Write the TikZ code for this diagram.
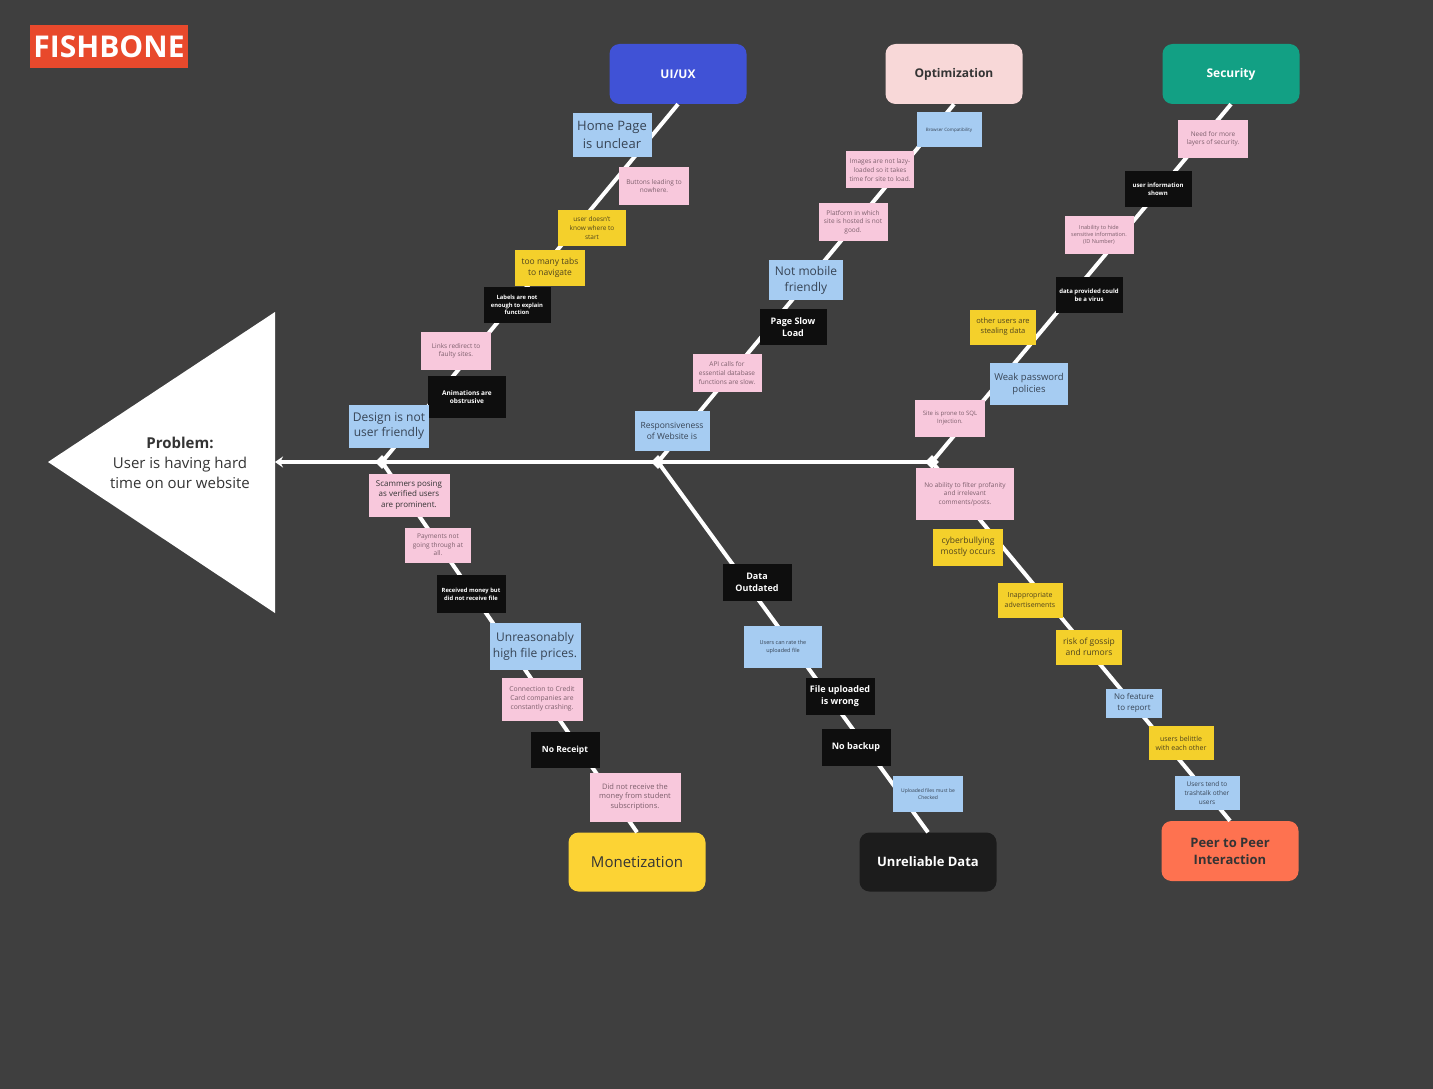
\documentclass[tikz,border=0pt]{standalone}
\usepackage{fontspec}
\setmainfont{Open Sans}
\usetikzlibrary{arrows.meta,shapes.geometric}
\definecolor{board}{RGB}{63,63,63}
\definecolor{fishred}{RGB}{232,73,44}
\definecolor{uiblue}{RGB}{64,82,214}
\definecolor{optpink}{RGB}{248,216,216}
\definecolor{secgreen}{RGB}{18,160,132}
\definecolor{monyellow}{RGB}{252,211,52}
\definecolor{datablack}{RGB}{28,28,28}
\definecolor{peerorange}{RGB}{254,114,80}
\definecolor{noteblue}{RGB}{166,204,242}
\definecolor{notepink}{RGB}{248,200,220}
\definecolor{noteyellow}{RGB}{244,208,43}
\definecolor{noteblack}{RGB}{14,14,14}
\definecolor{inkdark}{RGB}{52,52,52}
\definecolor{inkblue}{RGB}{55,68,85}
\definecolor{inkpink}{RGB}{125,95,108}
\definecolor{inkyellow}{RGB}{80,68,30}
\newcommand\fsz[1]{\pgfmathsetmacro\fszskip{1.32*#1}\fontsize{#1}{\fszskip}\selectfont}

\begin{document}
\begin{tikzpicture}[x=1pt, y=-1pt, line join=round,
	bone/.style={white, line width=4pt},
	head/.style={rounded corners=10pt, minimum width=137pt, minimum height=60pt, align=center, font=\bfseries\fsz{12}},
	sticky/.style={minimum width=69pt, minimum height=37pt, inner sep=1pt, align=center},
	sblue/.style={sticky, fill=noteblue, text=inkblue, font=\fsz{#1}},
	spink/.style={sticky, fill=notepink, text=inkpink, font=\fsz{#1}},
	syellow/.style={sticky, fill=noteyellow, text=inkyellow, font=\fsz{#1}},
	sblack/.style={sticky, fill=noteblack, text=white, font=\bfseries\fsz{#1}},
	joint/.style={diamond, fill=white, inner sep=0pt, minimum size=14pt}]
	\fill[board] (0,0) rectangle (1433,1089);
	\useasboundingbox (0,0) rectangle (1433,1089);
	
	\node[fill=fishred, text=white, font=\bfseries\fsz{30}, minimum width=158pt, minimum height=43pt, inner sep=0pt] (title) at (109,47) {FISHBONE};
	
	% head of the fish
	\fill[white] (48,462) -- (275,312) -- (275,613) -- cycle;
	\coordinate (mouth) at (275,462);
	\node[text=inkdark, font=\fsz{15}, align=center] (problem) at (180,463) {\textbf{Problem:}\\User is having hard\\time on our website};
	
	% categories
	\node[head, fill=uiblue, text=white] (uiux) at (678,74) {UI/UX};
	\node[head, fill=optpink, text=inkdark] (optim) at (954,74) {Optimization};
	\node[head, fill=secgreen, text=white] (secur) at (1231,74) {Security};
	\node[head, fill=monyellow, text=inkdark, font=\fsz{15}, minimum height=59pt] (monet) at (637,862) {Monetization};
	\node[head, fill=datablack, text=white, font=\bfseries\fsz{13}, minimum height=59pt] (unrel) at (928,862) {Unreliable Data};
	\node[head, fill=peerorange, text=inkdark, font=\bfseries\fsz{13}] (peer) at (1230,851) {Peer to Peer\\Interaction};
	
	\node[joint] (j1) at (382,462) {};
	\node[joint] (j2) at (658,462) {};
	\node[joint] (j3) at (932,462) {};
	
	% bones
	\draw[bone] (uiux.south) -- (j1.center) -- (monet.north);
	\draw[bone] (optim.south) -- (j2.center) -- (unrel.north);
	\draw[bone] (secur.south) -- (j3.center) -- (peer.north);
	\draw[bone, -{Stealth[length=8pt, width=11pt]}] (j3.center) -- (mouth);
	
	% UI/UX
	\node[sblue=13, minimum width=79pt, minimum height=44pt] (home) at (612,135) {Home Page\\is unclear};
	\node[spink=6.5, minimum width=70pt, minimum height=38pt] (buttons) at (654,186) {Buttons leading to\\nowhere.};
	\node[syellow=6.5, minimum width=68pt, minimum height=36pt] (start) at (592,228) {user doesn't\\know where to\\start};
	\node[syellow=8.5, minimum width=70pt, minimum height=36pt] (tabs) at (550,268) {too many tabs\\to navigate};
	\node[sblack=5.8, minimum width=67pt, minimum height=36pt] (labels) at (517,305) {Labels are not\\enough to explain\\function};
	\node[spink=6.5, minimum width=70pt, minimum height=38pt] (links) at (456,351) {Links redirect to\\faulty sites.};
	\node[sblack=6.5, minimum width=78pt, minimum height=42pt] (anim) at (467,397) {Animations are\\obstrusive};
	\node[sblue=12, minimum width=80pt, minimum height=43pt] (design) at (389,426) {Design is not\\user friendly};
	
	% Monetization
	\node[spink=8, text=inkdark, minimum width=81pt, minimum height=43pt] (scam) at (409,495) {Scammers posing\\as verified users\\are prominent.};
	\node[spink=6.5, minimum width=66pt, minimum height=35pt] (pay) at (438,545) {Payments not\\going through at\\all.};
	\node[sblack=5.8, minimum width=69pt, minimum height=38pt] (recv) at (471,594) {Received money but\\did not receive file};
	\node[sblue=12, minimum width=91pt, minimum height=47pt] (price) at (535,646) {Unreasonably\\high file prices.};
	\node[spink=6.8, minimum width=81pt, minimum height=43pt] (credit) at (542,699) {Connection to Credit\\Card companies are\\constantly crashing.};
	\node[sblack=8.5, minimum width=69pt, minimum height=36pt] (receipt) at (565,750) {No Receipt};
	\node[spink=7.5, minimum width=91pt, minimum height=49pt] (student) at (635,797) {Did not receive the\\money from student\\subscriptions.};
	
	% Optimization
	\node[sblue=4.5, minimum width=65pt, minimum height=35pt] (browser) at (949,130) {Browser Compatibility};
	\node[spink=6.5, minimum width=68pt, minimum height=37pt] (lazy) at (880,170) {Images are not lazy-\\loaded so it takes\\time for site to load.};
	\node[spink=6.5, minimum width=69pt, minimum height=38pt] (host) at (853,222) {Platform in which\\site is hosted is not\\good.};
	\node[sblue=12, minimum width=74pt, minimum height=40pt] (mobile) at (806,280) {Not mobile\\friendly};
	\node[sblack=9, minimum width=67pt, minimum height=36pt] (slow) at (793,327) {Page Slow\\Load};
	\node[spink=6.5, minimum width=69pt, minimum height=38pt] (api) at (727,373) {API calls for\\essential database\\functions are slow.};
	\node[sblue=8.5, minimum width=75pt, minimum height=40pt] (resp) at (672,431) {Responsiveness\\of Website is};
	
	% Unreliable Data
	\node[sblack=9, minimum width=69pt, minimum height=37pt] (outdated) at (757,582) {Data\\Outdated};
	\node[sblue=5.5, minimum width=78pt, minimum height=42pt] (rate) at (783,647) {Users can rate the\\uploaded file};
	\node[sblack=9, minimum width=69pt, minimum height=37pt] (wrongfile) at (840,696) {File uploaded\\is wrong};
	\node[sblack=9, minimum width=69pt, minimum height=37pt] (backup) at (856,747) {No backup};
	\node[sblue=5, minimum width=70pt, minimum height=36pt] (checked) at (928,794) {Uploaded files must be\\Checked};
	
	% Security
	\node[spink=6.5, minimum width=70pt, minimum height=38pt] (layers) at (1213,139) {Need for more\\layers of security.};
	\node[sblack=6, minimum width=67pt, minimum height=36pt] (shown) at (1158,189) {user information\\shown};
	\node[spink=5.5, minimum width=69pt, minimum height=38pt] (hide) at (1099,235) {Inability to hide\\sensitive information.\\(ID Number)};
	\node[sblack=6, minimum width=67pt, minimum height=36pt] (virus) at (1089,295) {data provided could\\be a virus};
	\node[syellow=7.5, minimum width=66pt, minimum height=35pt] (steal) at (1003,327) {other users are\\stealing data};
	\node[sblue=9.5, minimum width=78pt, minimum height=42pt] (weak) at (1029,384) {Weak password\\policies};
	\node[spink=6, minimum width=70pt, minimum height=37pt] (sql) at (950,418) {Site is prone to SQL\\Injection.};
	
	% Peer to Peer
	\node[spink=6.5, minimum width=98pt, minimum height=52pt] (profan) at (965,494) {No ability to filter profanity\\and irrelevant\\comments/posts.};
	\node[syellow=8.5, minimum width=70pt, minimum height=37pt] (bully) at (968,547) {cyberbullying\\mostly occurs};
	\node[syellow=7, minimum width=65pt, minimum height=35pt] (ads) at (1030,600) {Inappropriate\\advertisements};
	\node[syellow=8.5, minimum width=66pt, minimum height=35pt] (gossip) at (1089,647) {risk of gossip\\and rumors};
	\node[sblue=8, minimum width=56pt, minimum height=29pt] (report) at (1134,703) {No feature\\to report};
	\node[syellow=7, minimum width=65pt, minimum height=34pt] (belittle) at (1181,743) {users belittle\\with each other};
	\node[sblue=6.5, minimum width=65pt, minimum height=34pt] (trash) at (1207,793) {Users tend to\\trashtalk other\\users};
\end{tikzpicture}
\end{document}
